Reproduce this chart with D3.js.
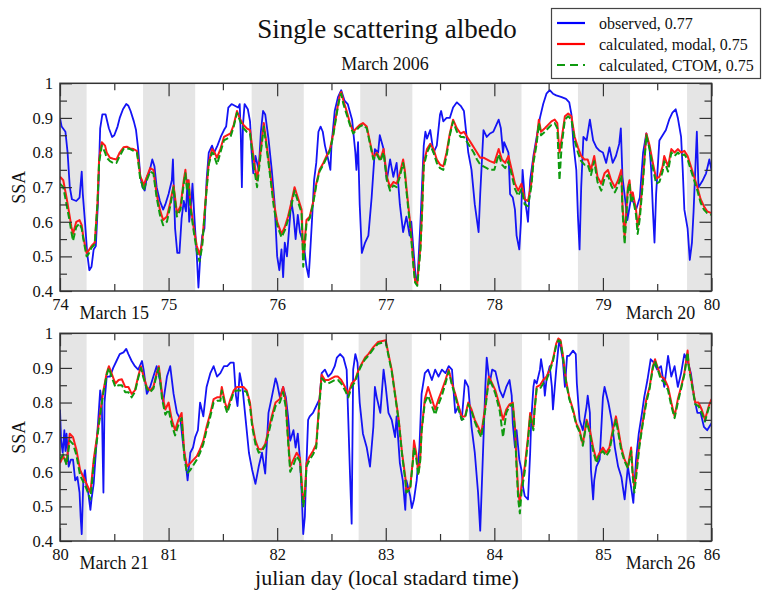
<!DOCTYPE html>
<html>
<head>
<meta charset="utf-8">
<script src="https://cdnjs.cloudflare.com/ajax/libs/d3/7.8.5/d3.min.js"></script>
<style>
body{margin:0;background:#fff;}
text{font-family:"Liberation Serif","Times New Roman",serif;fill:#111;}
</style>
</head>
<body>
<div id="chart"></div>
<script>
// observed SSA, [julian day, value]
var obsTop = [[74.00,0.90],[74.015,0.875],[74.05,0.86],[74.07,0.80],[74.09,0.70],[74.11,0.665],[74.15,0.66],[74.18,0.67],[74.20,0.745],[74.21,0.68],[74.23,0.60],[74.25,0.51],[74.27,0.46],[74.29,0.47],[74.31,0.52],[74.33,0.53],[74.35,0.66],[74.37,0.87],[74.39,0.91],[74.42,0.91],[74.45,0.87],[74.48,0.845],[74.50,0.85],[74.53,0.875],[74.55,0.90],[74.58,0.925],[74.61,0.94],[74.63,0.935],[74.65,0.92],[74.68,0.89],[74.70,0.865],[74.72,0.81],[74.74,0.73],[74.76,0.70],[74.78,0.69],[74.80,0.73],[74.82,0.74],[74.85,0.78],[74.87,0.76],[74.89,0.70],[74.92,0.66],[74.95,0.635],[74.97,0.65],[75.00,0.68],[75.03,0.72],[75.04,0.78],[75.06,0.58],[75.08,0.51],[75.10,0.51],[75.12,0.61],[75.14,0.66],[75.16,0.63],[75.175,0.72],[75.19,0.60],[75.21,0.66],[75.22,0.71],[75.24,0.60],[75.26,0.50],[75.275,0.41],[75.29,0.49],[75.31,0.56],[75.33,0.58],[75.35,0.72],[75.37,0.80],[75.40,0.82],[75.42,0.80],[75.45,0.82],[75.48,0.845],[75.51,0.865],[75.53,0.875],[75.55,0.93],[75.58,0.94],[75.61,0.935],[75.64,0.93],[75.655,0.94],[75.665,0.85],[75.675,0.70],[75.685,0.88],[75.70,0.94],[75.73,0.925],[75.75,0.89],[75.765,0.80],[75.78,0.74],[75.80,0.79],[75.83,0.75],[75.85,0.86],[75.87,0.92],[75.89,0.91],[75.92,0.84],[75.95,0.75],[75.975,0.66],[76.00,0.50],[76.02,0.46],[76.04,0.52],[76.055,0.44],[76.07,0.54],[76.09,0.50],[76.11,0.58],[76.13,0.66],[76.15,0.62],[76.17,0.55],[76.19,0.62],[76.21,0.57],[76.23,0.55],[76.25,0.52],[76.27,0.47],[76.29,0.44],[76.30,0.49],[76.32,0.60],[76.34,0.72],[76.36,0.77],[76.38,0.86],[76.40,0.875],[76.42,0.86],[76.44,0.82],[76.47,0.78],[76.49,0.75],[76.50,0.82],[76.53,0.92],[76.56,0.96],[76.59,0.98],[76.62,0.95],[76.65,0.94],[76.69,0.895],[76.72,0.80],[76.73,0.75],[76.745,0.83],[76.76,0.65],[76.78,0.51],[76.81,0.54],[76.84,0.56],[76.87,0.67],[76.90,0.81],[76.93,0.80],[76.945,0.85],[76.98,0.81],[77.01,0.72],[77.04,0.78],[77.07,0.73],[77.10,0.77],[77.13,0.65],[77.16,0.57],[77.19,0.615],[77.22,0.56],[77.235,0.60],[77.26,0.50],[77.275,0.44],[77.29,0.43],[77.30,0.48],[77.32,0.60],[77.35,0.82],[77.365,0.86],[77.38,0.84],[77.41,0.865],[77.44,0.80],[77.47,0.82],[77.50,0.91],[77.51,0.92],[77.53,0.89],[77.56,0.90],[77.59,0.90],[77.62,0.93],[77.655,0.945],[77.69,0.935],[77.72,0.92],[77.73,0.89],[77.76,0.80],[77.79,0.75],[77.82,0.65],[77.855,0.57],[77.87,0.68],[77.90,0.865],[77.93,0.845],[77.96,0.855],[77.99,0.86],[78.04,0.895],[78.06,0.87],[78.08,0.80],[78.09,0.83],[78.13,0.80],[78.145,0.68],[78.17,0.67],[78.19,0.635],[78.205,0.56],[78.23,0.52],[78.245,0.60],[78.26,0.75],[78.28,0.67],[78.30,0.625],[78.31,0.60],[78.33,0.72],[78.36,0.79],[78.39,0.845],[78.42,0.90],[78.45,0.94],[78.48,0.97],[78.51,0.98],[78.54,0.97],[78.57,0.965],[78.62,0.96],[78.66,0.955],[78.69,0.945],[78.71,0.91],[78.73,0.82],[78.755,0.75],[78.77,0.615],[78.785,0.52],[78.80,0.70],[78.82,0.845],[78.85,0.835],[78.88,0.895],[78.91,0.835],[78.94,0.815],[78.97,0.805],[79.00,0.80],[79.03,0.77],[79.06,0.815],[79.09,0.77],[79.12,0.79],[79.15,0.825],[79.165,0.87],[79.18,0.73],[79.21,0.65],[79.225,0.605],[79.26,0.67],[79.29,0.65],[79.305,0.635],[79.34,0.67],[79.37,0.80],[79.40,0.855],[79.43,0.81],[79.445,0.75],[79.46,0.635],[79.475,0.54],[79.49,0.68],[79.52,0.835],[79.55,0.85],[79.58,0.865],[79.61,0.895],[79.64,0.915],[79.67,0.925],[79.69,0.90],[79.72,0.845],[79.735,0.75],[79.75,0.635],[79.78,0.58],[79.80,0.49],[79.82,0.54],[79.835,0.63],[79.865,0.86],[79.88,0.70],[79.92,0.72],[79.95,0.74],[79.98,0.78],[80.00,0.75]];

// calculated SSA, [julian day, modal, CTOM]
var calcTop = [[74.00,0.73,0.71],[74.03,0.72,0.70],[74.06,0.67,0.65],[74.09,0.615,0.60],[74.105,0.585,0.57],[74.12,0.565,0.545],[74.15,0.60,0.585],[74.18,0.605,0.595],[74.20,0.59,0.58],[74.215,0.555,0.55],[74.245,0.51,0.50],[74.26,0.515,0.505],[74.29,0.53,0.525],[74.32,0.54,0.535],[74.345,0.655,0.65],[74.36,0.78,0.77],[74.385,0.83,0.82],[74.415,0.82,0.80],[74.43,0.80,0.785],[74.46,0.785,0.775],[74.49,0.782,0.77],[74.52,0.78,0.77],[74.55,0.80,0.79],[74.585,0.815,0.81],[74.615,0.817,0.812],[74.646,0.812,0.81],[74.677,0.81,0.805],[74.708,0.805,0.80],[74.72,0.78,0.775],[74.74,0.73,0.72],[74.755,0.72,0.71],[74.77,0.705,0.69],[74.80,0.73,0.72],[74.83,0.755,0.745],[74.86,0.75,0.74],[74.89,0.68,0.67],[74.92,0.635,0.62],[74.95,0.605,0.59],[74.985,0.615,0.60],[75.015,0.655,0.645],[75.046,0.705,0.70],[75.077,0.625,0.615],[75.11,0.645,0.635],[75.14,0.72,0.71],[75.155,0.75,0.74],[75.17,0.70,0.69],[75.185,0.72,0.71],[75.20,0.655,0.645],[75.23,0.585,0.575],[75.26,0.53,0.515],[75.285,0.505,0.485],[75.31,0.54,0.53],[75.34,0.66,0.655],[75.37,0.77,0.765],[75.40,0.81,0.80],[75.415,0.805,0.795],[75.446,0.785,0.765],[75.477,0.81,0.80],[75.51,0.845,0.835],[75.54,0.85,0.84],[75.57,0.855,0.845],[75.60,0.88,0.875],[75.63,0.92,0.915],[75.66,0.895,0.89],[75.69,0.88,0.87],[75.72,0.87,0.86],[75.75,0.865,0.855],[75.785,0.78,0.76],[75.815,0.72,0.70],[75.846,0.80,0.79],[75.877,0.885,0.875],[75.908,0.81,0.80],[75.94,0.73,0.72],[75.97,0.655,0.64],[76.00,0.60,0.59],[76.04,0.565,0.555],[76.07,0.585,0.575],[76.10,0.615,0.605],[76.13,0.655,0.645],[76.16,0.70,0.69],[76.19,0.67,0.66],[76.225,0.635,0.625],[76.24,0.50,0.47],[76.255,0.55,0.53],[76.27,0.605,0.595],[76.30,0.615,0.61],[76.33,0.655,0.65],[76.36,0.71,0.705],[76.39,0.75,0.745],[76.425,0.77,0.765],[76.455,0.79,0.785],[76.486,0.81,0.805],[76.517,0.855,0.85],[76.55,0.92,0.915],[76.58,0.97,0.965],[76.59,0.975,0.97],[76.61,0.95,0.94],[76.64,0.92,0.91],[76.67,0.885,0.88],[76.70,0.86,0.855],[76.73,0.87,0.865],[76.76,0.88,0.875],[76.79,0.885,0.88],[76.825,0.875,0.87],[76.855,0.83,0.825],[76.886,0.785,0.78],[76.917,0.80,0.795],[76.95,0.78,0.775],[76.98,0.81,0.80],[77.01,0.73,0.72],[77.04,0.70,0.69],[77.07,0.715,0.705],[77.10,0.71,0.70],[77.13,0.74,0.73],[77.16,0.78,0.77],[77.175,0.75,0.74],[77.19,0.70,0.69],[77.225,0.595,0.585],[77.24,0.54,0.53],[77.255,0.48,0.47],[77.27,0.43,0.425],[77.29,0.42,0.415],[77.30,0.46,0.45],[77.32,0.53,0.52],[77.335,0.64,0.63],[77.35,0.77,0.76],[77.38,0.81,0.80],[77.41,0.825,0.82],[77.44,0.81,0.80],[77.47,0.78,0.77],[77.50,0.765,0.755],[77.53,0.76,0.75],[77.56,0.80,0.79],[77.59,0.855,0.85],[77.62,0.895,0.89],[77.655,0.87,0.86],[77.69,0.855,0.845],[77.72,0.86,0.845],[77.75,0.845,0.83],[77.78,0.83,0.815],[77.81,0.815,0.80],[77.84,0.80,0.78],[77.87,0.785,0.765],[77.90,0.785,0.76],[77.93,0.78,0.755],[77.96,0.775,0.75],[78.00,0.77,0.75],[78.04,0.81,0.795],[78.07,0.78,0.765],[78.10,0.77,0.755],[78.13,0.79,0.775],[78.16,0.75,0.735],[78.19,0.71,0.695],[78.22,0.69,0.675],[78.25,0.71,0.695],[78.28,0.665,0.65],[78.31,0.66,0.645],[78.34,0.71,0.70],[78.36,0.78,0.77],[78.39,0.835,0.825],[78.41,0.895,0.885],[78.43,0.86,0.85],[78.465,0.87,0.86],[78.495,0.88,0.87],[78.526,0.89,0.88],[78.556,0.895,0.885],[78.58,0.885,0.87],[78.60,0.80,0.72],[78.62,0.84,0.82],[78.65,0.905,0.895],[78.68,0.913,0.905],[78.71,0.905,0.895],[78.74,0.845,0.835],[78.77,0.815,0.80],[78.80,0.79,0.775],[78.83,0.78,0.765],[78.86,0.78,0.765],[78.89,0.75,0.735],[78.92,0.79,0.775],[78.95,0.73,0.715],[78.985,0.71,0.69],[79.015,0.74,0.725],[79.046,0.75,0.735],[79.076,0.72,0.705],[79.11,0.70,0.685],[79.14,0.72,0.705],[79.17,0.75,0.735],[79.18,0.65,0.635],[79.20,0.555,0.535],[79.21,0.605,0.585],[79.23,0.70,0.69],[79.245,0.72,0.71],[79.26,0.67,0.655],[79.275,0.685,0.67],[79.305,0.635,0.62],[79.32,0.585,0.565],[79.34,0.625,0.61],[79.37,0.73,0.72],[79.40,0.855,0.85],[79.43,0.82,0.81],[79.46,0.77,0.755],[79.49,0.725,0.71],[79.52,0.73,0.715],[79.55,0.76,0.745],[79.565,0.79,0.775],[79.60,0.76,0.745],[79.63,0.81,0.80],[79.66,0.80,0.79],[79.69,0.81,0.80],[79.72,0.80,0.79],[79.75,0.805,0.795],[79.78,0.79,0.78],[79.81,0.76,0.75],[79.84,0.73,0.72],[79.87,0.70,0.69],[79.90,0.665,0.655],[79.93,0.645,0.635],[79.96,0.63,0.625],[80.00,0.625,0.62]];

var obsBottom = [[80.00,0.78],[80.01,0.69],[80.025,0.655],[80.04,0.72],[80.05,0.66],[80.06,0.71],[80.08,0.615],[80.10,0.635],[80.12,0.635],[80.14,0.575],[80.16,0.585],[80.18,0.54],[80.19,0.47],[80.20,0.42],[80.215,0.575],[80.23,0.605],[80.245,0.555],[80.26,0.54],[80.28,0.49],[80.29,0.52],[80.31,0.565],[80.33,0.655],[80.35,0.74],[80.37,0.835],[80.385,0.80],[80.395,0.62],[80.40,0.54],[80.41,0.80],[80.43,0.875],[80.46,0.875],[80.49,0.90],[80.52,0.92],[80.55,0.94],[80.585,0.945],[80.61,0.955],[80.63,0.94],[80.66,0.92],[80.69,0.905],[80.72,0.895],[80.755,0.92],[80.77,0.895],[80.80,0.825],[80.83,0.845],[80.86,0.875],[80.89,0.905],[80.92,0.865],[80.95,0.80],[80.985,0.875],[81.015,0.905],[81.046,0.825],[81.077,0.77],[81.11,0.75],[81.13,0.69],[81.155,0.635],[81.175,0.575],[81.20,0.655],[81.225,0.67],[81.245,0.70],[81.27,0.72],[81.29,0.80],[81.32,0.76],[81.35,0.845],[81.385,0.885],[81.415,0.905],[81.446,0.875],[81.477,0.885],[81.51,0.905],[81.54,0.905],[81.57,0.915],[81.60,0.915],[81.62,0.82],[81.635,0.79],[81.655,0.885],[81.68,0.845],[81.71,0.75],[81.74,0.655],[81.77,0.605],[81.80,0.565],[81.83,0.615],[81.86,0.655],[81.89,0.595],[81.92,0.77],[81.95,0.815],[81.985,0.87],[82.00,0.855],[82.025,0.815],[82.055,0.845],[82.08,0.815],[82.10,0.76],[82.12,0.69],[82.15,0.72],[82.17,0.67],[82.19,0.71],[82.21,0.635],[82.225,0.545],[82.24,0.42],[82.255,0.47],[82.27,0.625],[82.285,0.75],[82.30,0.76],[82.33,0.77],[82.36,0.79],[82.39,0.81],[82.41,0.885],[82.44,0.895],[82.47,0.875],[82.50,0.885],[82.53,0.905],[82.55,0.93],[82.58,0.94],[82.61,0.93],[82.64,0.895],[82.655,0.75],[82.67,0.60],[82.686,0.45],[82.70,0.895],[82.72,0.94],[82.74,0.915],[82.76,0.80],[82.79,0.71],[82.825,0.67],[82.855,0.615],[82.886,0.73],[82.90,0.845],[82.917,0.815],[82.95,0.77],[82.98,0.895],[83.00,0.845],[83.025,0.77],[83.055,0.75],[83.086,0.70],[83.10,0.76],[83.13,0.625],[83.157,0.575],[83.18,0.49],[83.19,0.575],[83.225,0.53],[83.24,0.495],[83.26,0.52],[83.285,0.575],[83.31,0.67],[83.33,0.825],[83.36,0.885],[83.39,0.895],[83.425,0.865],[83.455,0.895],[83.486,0.875],[83.517,0.895],[83.55,0.885],[83.58,0.905],[83.61,0.895],[83.64,0.77],[83.67,0.79],[83.70,0.75],[83.73,0.865],[83.76,0.845],[83.79,0.73],[83.82,0.655],[83.85,0.54],[83.87,0.43],[83.895,0.65],[83.917,0.845],[83.93,0.93],[83.957,0.855],[83.98,0.895],[84.01,0.89],[84.05,0.835],[84.08,0.815],[84.11,0.845],[84.14,0.865],[84.16,0.82],[84.17,0.74],[84.19,0.67],[84.205,0.72],[84.23,0.635],[84.25,0.605],[84.265,0.555],[84.28,0.53],[84.31,0.52],[84.33,0.655],[84.34,0.75],[84.36,0.845],[84.37,0.865],[84.39,0.855],[84.42,0.895],[84.43,0.925],[84.45,0.885],[84.465,0.82],[84.48,0.865],[84.51,0.905],[84.53,0.845],[84.54,0.78],[84.57,0.895],[84.59,0.96],[84.60,0.98],[84.63,0.925],[84.65,0.845],[84.67,0.935],[84.69,0.935],[84.725,0.95],[84.75,0.94],[84.76,0.855],[84.785,0.75],[84.815,0.72],[84.85,0.79],[84.86,0.82],[84.88,0.77],[84.89,0.605],[84.91,0.52],[84.92,0.575],[84.94,0.615],[84.97,0.635],[85.00,0.815],[85.015,0.845],[85.05,0.80],[85.08,0.75],[85.11,0.67],[85.14,0.615],[85.17,0.585],[85.20,0.52],[85.23,0.615],[85.26,0.555],[85.28,0.51],[85.305,0.635],[85.33,0.71],[85.36,0.77],[85.38,0.815],[85.41,0.865],[85.44,0.925],[85.47,0.915],[85.50,0.895],[85.535,0.905],[85.565,0.845],[85.60,0.935],[85.63,0.875],[85.66,0.905],[85.69,0.845],[85.72,0.885],[85.75,0.94],[85.78,0.92],[85.81,0.885],[85.84,0.815],[85.87,0.77],[85.90,0.77],[85.93,0.73],[85.96,0.72],[86.00,0.74]];

var calcBottom = [[80.00,0.625,0.635],[80.03,0.645,0.65],[80.06,0.625,0.62],[80.09,0.71,0.69],[80.12,0.70,0.68],[80.15,0.665,0.65],[80.185,0.605,0.59],[80.215,0.585,0.57],[80.245,0.565,0.55],[80.28,0.54,0.52],[80.31,0.635,0.62],[80.34,0.70,0.69],[80.37,0.77,0.765],[80.40,0.835,0.83],[80.43,0.885,0.88],[80.45,0.905,0.90],[80.48,0.88,0.87],[80.51,0.855,0.845],[80.54,0.865,0.85],[80.57,0.867,0.85],[80.60,0.845,0.83],[80.63,0.845,0.83],[80.66,0.825,0.815],[80.69,0.835,0.83],[80.72,0.875,0.87],[80.745,0.905,0.90],[80.77,0.875,0.87],[80.80,0.845,0.84],[80.83,0.835,0.83],[80.86,0.845,0.84],[80.89,0.885,0.88],[80.91,0.905,0.90],[80.94,0.825,0.81],[80.97,0.78,0.765],[81.00,0.80,0.78],[81.03,0.75,0.735],[81.06,0.72,0.705],[81.09,0.75,0.735],[81.12,0.77,0.755],[81.145,0.655,0.64],[81.17,0.615,0.595],[81.20,0.625,0.605],[81.23,0.635,0.62],[81.26,0.645,0.635],[81.29,0.665,0.655],[81.32,0.69,0.68],[81.35,0.73,0.72],[81.385,0.77,0.76],[81.415,0.81,0.80],[81.446,0.815,0.805],[81.477,0.815,0.805],[81.49,0.845,0.835],[81.52,0.80,0.79],[81.54,0.78,0.77],[81.57,0.81,0.80],[81.60,0.835,0.83],[81.63,0.845,0.835],[81.66,0.845,0.835],[81.69,0.845,0.835],[81.72,0.835,0.83],[81.75,0.80,0.79],[81.77,0.74,0.73],[81.80,0.69,0.68],[81.83,0.665,0.655],[81.86,0.665,0.66],[81.89,0.68,0.675],[81.92,0.72,0.71],[81.95,0.76,0.75],[81.985,0.80,0.79],[82.025,0.81,0.80],[82.055,0.845,0.83],[82.08,0.80,0.785],[82.10,0.70,0.69],[82.12,0.615,0.60],[82.15,0.635,0.62],[82.18,0.655,0.645],[82.21,0.64,0.63],[82.225,0.575,0.56],[82.24,0.51,0.50],[82.255,0.54,0.53],[82.27,0.625,0.615],[82.30,0.645,0.635],[82.33,0.66,0.65],[82.36,0.68,0.67],[82.39,0.81,0.80],[82.41,0.88,0.87],[82.44,0.865,0.86],[82.47,0.865,0.855],[82.50,0.87,0.86],[82.53,0.875,0.865],[82.56,0.875,0.865],[82.59,0.865,0.855],[82.625,0.845,0.835],[82.655,0.825,0.815],[82.686,0.855,0.845],[82.717,0.865,0.86],[82.75,0.895,0.89],[82.78,0.913,0.91],[82.81,0.93,0.925],[82.84,0.94,0.935],[82.886,0.96,0.955],[82.93,0.975,0.97],[83.00,0.98,0.975],[83.025,0.94,0.935],[83.055,0.895,0.89],[83.086,0.825,0.82],[83.12,0.75,0.745],[83.15,0.655,0.65],[83.18,0.585,0.575],[83.19,0.545,0.54],[83.225,0.555,0.55],[83.25,0.635,0.63],[83.26,0.69,0.67],[83.28,0.655,0.64],[83.30,0.595,0.59],[83.317,0.635,0.63],[83.33,0.72,0.715],[83.36,0.81,0.80],[83.39,0.845,0.82],[83.425,0.81,0.79],[83.455,0.78,0.765],[83.486,0.81,0.795],[83.517,0.835,0.82],[83.55,0.865,0.855],[83.58,0.895,0.89],[83.61,0.855,0.85],[83.64,0.825,0.82],[83.67,0.79,0.78],[83.70,0.76,0.75],[83.73,0.76,0.755],[83.76,0.80,0.795],[83.79,0.78,0.775],[83.82,0.75,0.745],[83.85,0.73,0.72],[83.88,0.71,0.70],[83.917,0.79,0.78],[83.95,0.875,0.87],[83.98,0.855,0.85],[84.01,0.835,0.825],[84.05,0.79,0.775],[84.08,0.75,0.70],[84.11,0.78,0.77],[84.14,0.795,0.79],[84.17,0.80,0.795],[84.19,0.73,0.72],[84.205,0.625,0.61],[84.22,0.54,0.52],[84.235,0.51,0.48],[84.25,0.56,0.54],[84.28,0.615,0.60],[84.31,0.70,0.69],[84.33,0.77,0.76],[84.36,0.73,0.72],[84.37,0.78,0.775],[84.39,0.845,0.84],[84.42,0.85,0.84],[84.45,0.865,0.855],[84.48,0.875,0.865],[84.51,0.895,0.89],[84.54,0.925,0.92],[84.57,0.97,0.965],[84.59,0.985,0.98],[84.61,0.98,0.975],[84.63,0.94,0.935],[84.66,0.865,0.86],[84.69,0.815,0.81],[84.725,0.78,0.775],[84.755,0.74,0.735],[84.785,0.72,0.715],[84.815,0.68,0.675],[84.85,0.75,0.745],[84.88,0.72,0.71],[84.91,0.67,0.66],[84.94,0.635,0.625],[84.97,0.655,0.65],[85.00,0.67,0.66],[85.03,0.655,0.645],[85.06,0.67,0.66],[85.09,0.72,0.71],[85.12,0.76,0.75],[85.14,0.725,0.715],[85.17,0.67,0.66],[85.20,0.635,0.63],[85.23,0.615,0.61],[85.26,0.67,0.66],[85.275,0.595,0.585],[85.29,0.555,0.54],[85.305,0.595,0.58],[85.335,0.68,0.67],[85.37,0.75,0.745],[85.40,0.81,0.80],[85.43,0.845,0.84],[85.46,0.905,0.90],[85.48,0.925,0.92],[85.50,0.905,0.90],[85.535,0.875,0.865],[85.565,0.87,0.86],[85.60,0.845,0.835],[85.63,0.80,0.79],[85.66,0.76,0.755],[85.69,0.81,0.80],[85.72,0.845,0.84],[85.75,0.885,0.88],[85.78,0.95,0.945],[85.79,0.91,0.905],[85.82,0.855,0.85],[85.85,0.80,0.795],[85.88,0.80,0.79],[85.91,0.78,0.77],[85.94,0.75,0.745],[85.975,0.79,0.785],[86.00,0.81,0.80]];

// night time (grey bands), [start day, end day]
var nights = [[73.765,74.245],[74.765,75.245],[75.765,76.245],[76.765,77.245],[77.775,78.25],[78.77,79.25],[79.775,80.245],[80.765,81.235],[81.765,82.245],[82.75,83.24],[83.765,84.255],[84.765,85.245],[85.77,86.25]];

var yTicks = [0.4,0.5,0.6,0.7,0.8,0.9,1];
var yMinor = [0.45,0.55,0.65,0.75,0.85,0.95];

var legendItems = [
	{label:"observed, 0.77", color:"#0000ff", dash:null},
	{label:"calculated, modal, 0.75", color:"#ff0000", dash:null},
	{label:"calculated, CTOM, 0.75", color:"#0f9a0f", dash:"8,5"}
];

var panels = [
	{top:83.3, days:[74,80], obs:obsTop, calc:calcTop, dates:[[74.18,"March 15"],[79.21,"March 20"]]},
	{top:333.3, days:[80,86], obs:obsBottom, calc:calcBottom, dates:[[80.18,"March 21"],[85.21,"March 26"]]}
];

var W = 764, H = 590;
var left = 60, right = 711.5, ph = 207.7;
var serif = "'Liberation Serif','Times New Roman',serif";

var svg = d3.select("#chart").append("svg").attr("width",W).attr("height",H);

svg.append("text").attr("x",387).attr("y",38).attr("text-anchor","middle")
	.style("font-size","27px").text("Single scattering albedo");
svg.append("text").attr("x",385).attr("y",70).attr("text-anchor","middle")
	.style("font-size","18px").text("March 2006");

panels.forEach(function(p,i){
	var x = d3.scaleLinear().domain(p.days).range([left,right]);
	var y = d3.scaleLinear().domain([0.4,1]).range([p.top+ph,p.top]);
	var g = svg.append("g");

	g.append("clipPath").attr("id","clip"+i).append("rect")
		.attr("x",left).attr("y",p.top).attr("width",right-left).attr("height",ph);

	var plot = g.append("g").attr("clip-path","url(#clip"+i+")");
	plot.selectAll("rect.night").data(nights).enter().append("rect")
		.attr("class","night")
		.attr("x",function(d){return x(d[0]);})
		.attr("width",function(d){return x(d[1])-x(d[0]);})
		.attr("y",p.top).attr("height",ph)
		.attr("fill","#e5e5e5");

	var lineObs = d3.line().x(function(d){return x(d[0]);}).y(function(d){return y(d[1]);});
	var lineModal = d3.line().x(function(d){return x(d[0]);}).y(function(d){return y(d[1]);});
	var lineCtom = d3.line().x(function(d){return x(d[0]);}).y(function(d){return y(d[2]);});

	plot.append("path").attr("d",lineObs(p.obs)).attr("fill","none")
		.attr("stroke","#1414f5").attr("stroke-width",1.8).attr("stroke-linejoin","round");
	plot.append("path").attr("d",lineModal(p.calc)).attr("fill","none")
		.attr("stroke","#ff1a1a").attr("stroke-width",2).attr("stroke-linejoin","round");
	plot.append("path").attr("d",lineCtom(p.calc)).attr("fill","none")
		.attr("stroke","#0f9a0f").attr("stroke-width",2).attr("stroke-dasharray","7,3")
		.attr("stroke-linejoin","round");

	var dayTicks = d3.range(p.days[0],p.days[1]+1);
	var halfTicks = dayTicks.slice(0,-1).map(function(d){return d+0.5;});

	// ticks all point inwards
	var axB = g.append("g").attr("transform","translate(0,"+(p.top+ph)+")")
		.call(d3.axisBottom(x).tickValues(dayTicks).tickSize(-13).tickSizeOuter(0).tickPadding(7).tickFormat(d3.format("d")));
	g.append("g").attr("transform","translate(0,"+(p.top+ph)+")")
		.call(d3.axisBottom(x).tickValues(halfTicks).tickSize(-7).tickSizeOuter(0).tickFormat(""));
	g.append("g").attr("transform","translate(0,"+p.top+")")
		.call(d3.axisTop(x).tickValues(dayTicks).tickSize(-13).tickSizeOuter(0).tickFormat(""));
	g.append("g").attr("transform","translate(0,"+p.top+")")
		.call(d3.axisTop(x).tickValues(halfTicks).tickSize(-7).tickSizeOuter(0).tickFormat(""));
	g.append("g").attr("transform","translate("+left+",0)")
		.call(d3.axisLeft(y).tickValues(yTicks).tickSize(-12).tickSizeOuter(0).tickPadding(7).tickFormat(d3.format("")));
	g.append("g").attr("transform","translate("+left+",0)")
		.call(d3.axisLeft(y).tickValues(yMinor).tickSize(-7).tickSizeOuter(0).tickFormat(""));
	g.append("g").attr("transform","translate("+right+",0)")
		.call(d3.axisRight(y).tickValues(yTicks).tickSize(-12).tickSizeOuter(0).tickFormat(""));
	g.append("g").attr("transform","translate("+right+",0)")
		.call(d3.axisRight(y).tickValues(yMinor).tickSize(-7).tickSizeOuter(0).tickFormat(""));

	g.selectAll("g").attr("font-family",serif).attr("font-size",16);
	g.selectAll(".tick line").attr("stroke","#333").attr("stroke-width",1.2);
	g.selectAll(".domain").remove();
	g.selectAll(".tick text").style("font-family",serif).style("font-size","16.5px").attr("fill","#111");
	axB.selectAll(".tick text").attr("dy","0.72em");

	g.append("rect").attr("x",left).attr("y",p.top).attr("width",right-left).attr("height",ph)
		.attr("fill","none").attr("stroke","#333").attr("stroke-width",1.5);

	g.selectAll("text.date").data(p.dates).enter().append("text")
		.attr("class","date")
		.attr("x",function(d){return x(d[0]);})
		.attr("y",p.top+ph+28)
		.style("font-size","18px")
		.text(function(d){return d[1];});

	g.append("text").attr("transform","translate(25,"+(p.top+ph/2)+") rotate(-90)")
		.attr("text-anchor","middle").style("font-size","18px").text("SSA");
});

svg.append("text").attr("x",387).attr("y",585).attr("text-anchor","middle")
	.style("font-size","22px").text("julian day (local stadard time)");

// legend
var lg = svg.append("g");
lg.append("rect").attr("x",551.5).attr("y",8.5).attr("width",209).attr("height",70)
	.attr("fill","#fff").attr("stroke","#444").attr("stroke-width",1.2);
legendItems.forEach(function(it,i){
	var ly = 23 + i*21;
	lg.append("line").attr("x1",557).attr("x2",585).attr("y1",ly).attr("y2",ly)
		.attr("stroke",it.color).attr("stroke-width",2.2)
		.attr("stroke-dasharray",it.dash);
	lg.append("text").attr("x",599).attr("y",ly+5.5).style("font-size","16px").text(it.label);
});
</script>
</body>
</html>
